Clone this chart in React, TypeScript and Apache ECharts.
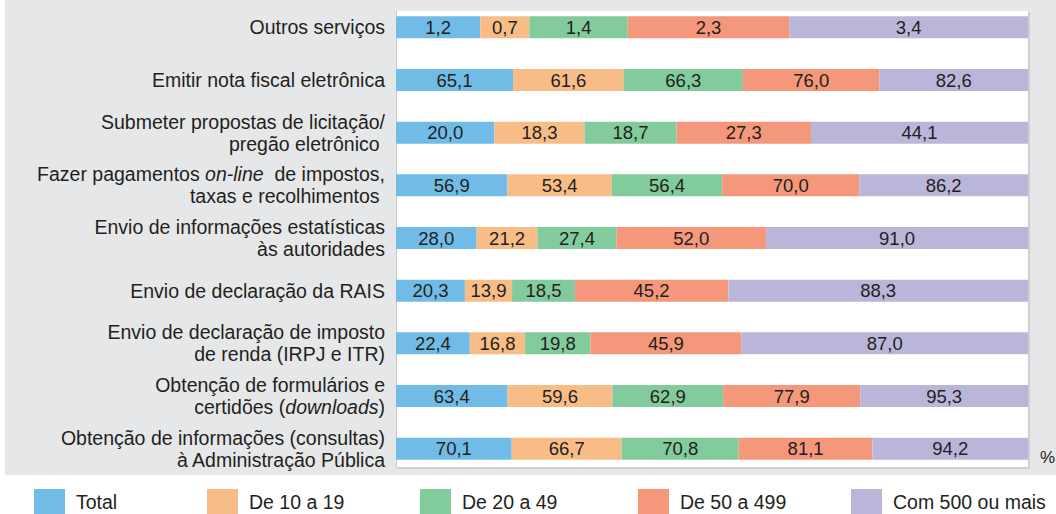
import React, { useEffect, useRef } from "react";
import * as echarts from "echarts";

const categories = [
  "Outros serviços",
  "Emitir nota fiscal eletrônica",
  "Submeter propostas de licitação/\npregão eletrônico ",
  "Fazer pagamentos {i|on-line}  de impostos,\ntaxas e recolhimentos ",
  "Envio de informações estatísticas\nàs autoridades",
  "Envio de declaração da RAIS",
  "Envio de declaração de imposto\nde renda (IRPJ e ITR)",
  "Obtenção de formulários e\ncertidões ({i|downloads})",
  "Obtenção de informações (consultas)\nà Administração Pública",
];

const seriesNames = ["Total", "De 10 a 19", "De 20 a 49", "De 50 a 499", "Com 500 ou mais"];

const total = [1.2, 65.1, 20.0, 56.9, 28.0, 20.3, 22.4, 63.4, 70.1];
const de10a19 = [0.7, 61.6, 18.3, 53.4, 21.2, 13.9, 16.8, 59.6, 66.7];
const de20a49 = [1.4, 66.3, 18.7, 56.4, 27.4, 18.5, 19.8, 62.9, 70.8];
const de50a499 = [2.3, 76.0, 27.3, 70.0, 52.0, 45.2, 45.9, 77.9, 81.1];
const com500 = [3.4, 82.6, 44.1, 86.2, 91.0, 88.3, 87.0, 95.3, 94.2];

const colors = ["#70bce7", "#f8bc86", "#82cb9c", "#f5977a", "#bab6da"];
const legendLefts = [34, 207, 420, 638, 851];

const FONT = "'Liberation Sans', Arial, sans-serif";
const TEXT = "#231f20";

export default function App() {
  const ref = useRef<HTMLDivElement>(null);
  useEffect(() => {
    if (!ref.current) return;
    const chart = echarts.init(ref.current, undefined, { renderer: "svg" });
    const values = [total, de10a19, de20a49, de50a499, com500];
    const sums = categories.map((_, i) => values.reduce((s, arr) => s + arr[i], 0));
    const fmt = (v: number) => v.toFixed(1).replace(".", ",");

    const series = values.map((arr, si) => ({
      name: seriesNames[si],
      type: "bar",
      stack: "all",
      barWidth: 22,
      data: arr.map((v, i) => (v / sums[i]) * 100),
      itemStyle: { color: colors[si] },
      label: {
        show: true,
        position: "inside",
        color: TEXT,
        fontSize: 18.5,
        fontFamily: FONT,
        formatter: (p: any) => fmt(values[si][p.dataIndex]),
      },
      z: 5,
    }));

    chart.setOption({
      animation: false,
      textStyle: { fontFamily: FONT },
      grid: { left: 396, right: 28, top: 1, height: 474, containLabel: false },
      xAxis: { type: "value", min: 0, max: 100, show: false },
      yAxis: {
        type: "category",
        inverse: true,
        data: categories,
        axisLine: { show: false },
        axisTick: { show: false },
        axisLabel: {
          margin: 11,
          color: TEXT,
          fontSize: 19.5,
          fontFamily: FONT,
          lineHeight: 22,
          align: "right",
          rich: {
            i: { fontStyle: "italic", fontSize: 19.5, fontFamily: FONT, color: TEXT, lineHeight: 22 },
          },
        },
      },
      legend: seriesNames.map((n, i) => ({
        data: [n],
        left: legendLefts[i],
        top: 489,
        padding: 0,
        itemWidth: 31,
        itemHeight: 26,
        icon: "rect",
        selectedMode: false,
        textStyle: { fontSize: 19.5, color: TEXT, fontFamily: FONT, padding: [0, 0, 0, 6] },
      })),
      graphic: [
        { type: "rect", z: -10, shape: { x: 5, y: 0, width: 1051, height: 475 }, style: { fill: "#e6e7e9" } },
        { type: "rect", z: -9, shape: { x: 397, y: 12, width: 633, height: 457 }, style: { fill: "#cfd0d2" } },
        { type: "rect", z: -8, shape: { x: 396, y: 11, width: 632, height: 456 }, style: { fill: "#ffffff" } },
        { type: "line", z: -7, shape: { x1: 396.5, y1: 11, x2: 396.5, y2: 467 }, style: { stroke: "#c8c9cb", lineWidth: 1 } },
        { type: "text", z: 10, x: 1040, y: 449, style: { text: "%", fontSize: 17, fill: TEXT, fontFamily: FONT } },
      ],
      series,
    });
    return () => chart.dispose();
  }, []);
  return <div ref={ref} style={{ position: "fixed", left: 0, top: 0, width: 1056, height: 514, background: "#fff" }} />;
}
